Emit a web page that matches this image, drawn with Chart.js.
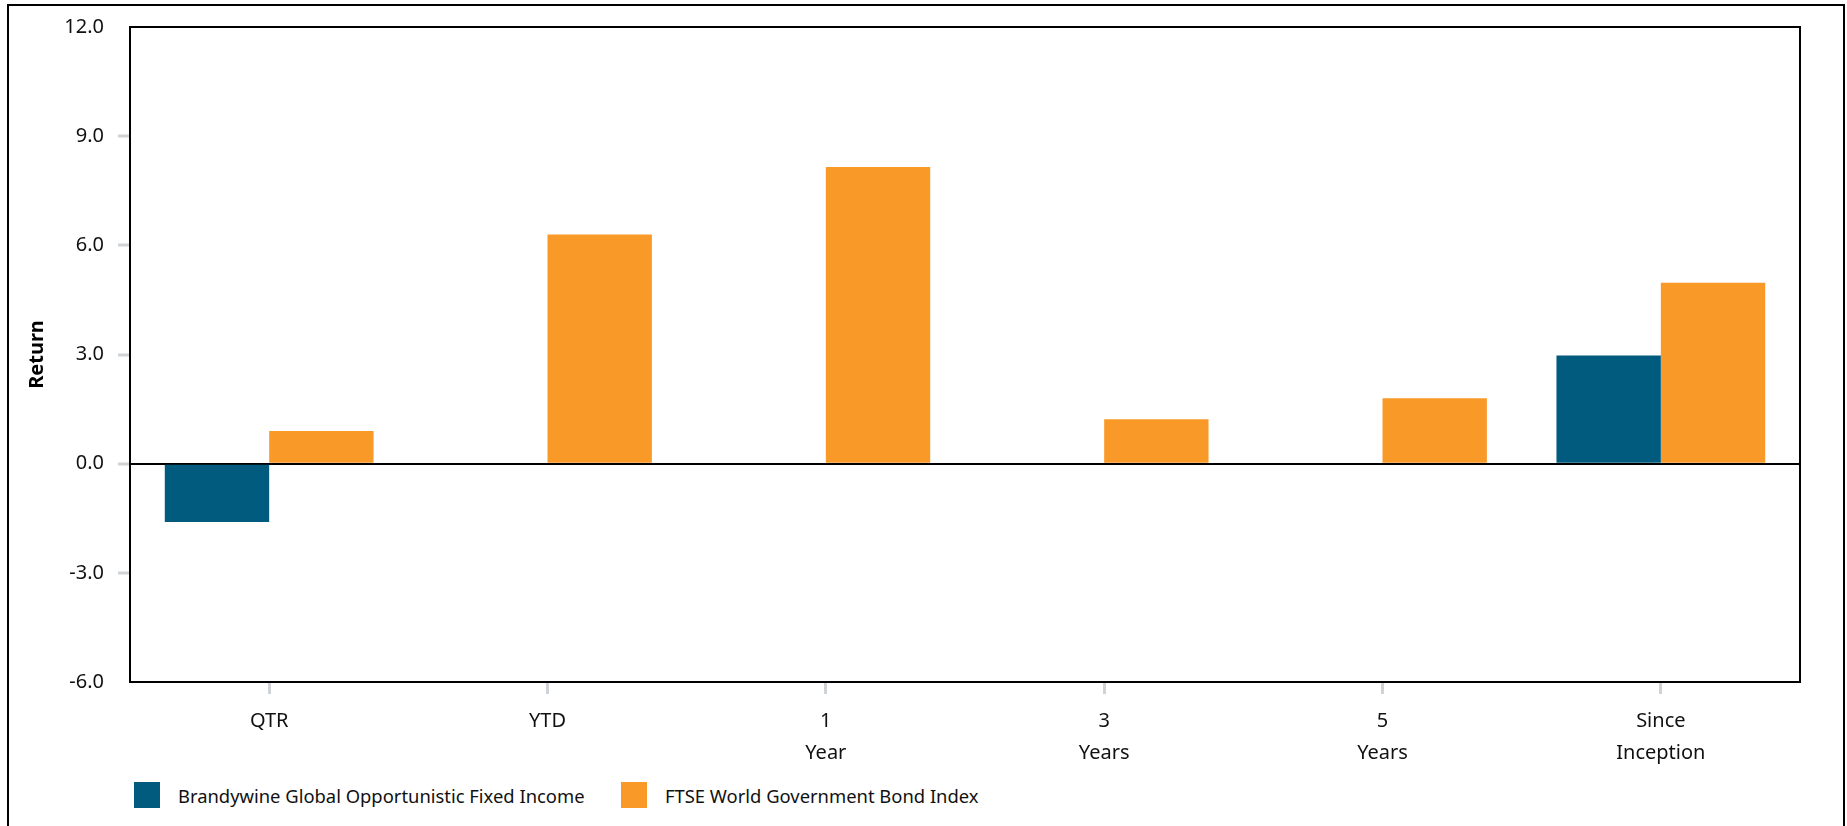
<!DOCTYPE html>
<html>
<head>
<meta charset="utf-8">
<script src="https://cdn.jsdelivr.net/npm/chart.js@4.4.1/dist/chart.umd.min.js"></script>
<style>
    html, body { margin: 0; padding: 0; background: #fff; }
    body { width: 1847px; height: 826px; position: relative; overflow: hidden; font-family: "Noto Sans", sans-serif; }
    #frame { position: absolute; left: 7px; top: 4px; width: 1834px; height: 900px; border: 2px solid #000; }
    #returnChart { position: absolute; left: 0; top: 0; }
    .legend-item { position: absolute; top: 782px; height: 26px; display: flex; align-items: center; font-size: 18.4px; color: #111; white-space: nowrap; }
    .legend-box { width: 26px; height: 26px; margin-right: 18px; }
</style>
</head>
<body>
<div id="frame"></div>
<canvas id="returnChart" width="1847" height="770"></canvas>
<div id="legend"></div>

<script>
// Chart data
const periods = ['QTR', 'YTD', ['1', 'Year'], ['3', 'Years'], ['5', 'Years'], ['Since', 'Inception']];
const brandywineReturns = [-1.6, null, null, null, null, 2.97];
const ftseReturns = [0.9, 6.3, 8.15, 1.22, 1.8, 4.97];
const yTicks = [-6, -3, 0, 3, 6, 9, 12];

const seriesNames = ['Brandywine Global Opportunistic Fixed Income', 'FTSE World Government Bond Index'];
const seriesColors = ['#005b7f', '#f99928'];
const tickGray = '#cfd2d6';

// plot area border, drawn after the bars
const plotBorder = {
    id: 'plotBorder',
    afterDraw(chart) {
        const { ctx, chartArea } = chart;
        ctx.save();
        ctx.strokeStyle = '#000';
        ctx.lineWidth = 2;
        ctx.strokeRect(chartArea.left, chartArea.top, chartArea.right - chartArea.left, chartArea.bottom - chartArea.top);
        ctx.restore();
    }
};

const ctx = document.getElementById('returnChart').getContext('2d');
const returnChart = new Chart(ctx, {
    type: 'bar',
    data: {
        labels: periods,
        datasets: [
            { label: seriesNames[0], data: brandywineReturns, backgroundColor: seriesColors[0] },
            { label: seriesNames[1], data: ftseReturns, backgroundColor: seriesColors[1] }
        ]
    },
    options: {
        responsive: false,
        animation: false,
        layout: { padding: { left: 0, right: 47, top: 27, bottom: 0 } },
        datasets: {
            bar: { categoryPercentage: 0.75, barPercentage: 1.0, borderWidth: 0 }
        },
        plugins: {
            legend: { display: false },
            tooltip: { enabled: false }
        },
        scales: {
            x: {
                afterFit(scale) { scale.height = 88; },
                grid: {
                    offset: false,
                    drawOnChartArea: false,
                    drawTicks: true,
                    tickLength: 12,
                    tickWidth: 3,
                    tickColor: tickGray
                },
                border: { display: false },
                ticks: {
                    padding: 11,
                    color: '#111',
                    maxRotation: 0,
                    font: { family: 'Noto Sans', size: 20, lineHeight: 1.6 }
                }
            },
            y: {
                min: -6,
                max: 12,
                afterFit(scale) { scale.width = 130; },
                afterBuildTicks(scale) { scale.ticks = yTicks.map(v => ({ value: v })); },
                grid: {
                    drawOnChartArea: true,
                    color: c => (c.tick && c.tick.value === 0 ? '#000' : 'rgba(0,0,0,0)'),
                    lineWidth: 2,
                    tickLength: 12,
                    tickWidth: 3,
                    tickColor: c => (c.tick && (c.tick.value === -6 || c.tick.value === 12) ? 'rgba(0,0,0,0)' : tickGray)
                },
                border: { display: false },
                ticks: {
                    padding: 14,
                    color: '#111',
                    font: { family: 'Noto Sans', size: 20 },
                    callback: v => Number(v).toFixed(1)
                },
                title: {
                    display: true,
                    text: 'Return',
                    color: '#000',
                    padding: { top: 25, bottom: 0 },
                    font: { family: 'Noto Sans', size: 20, weight: 'bold', lineHeight: 1.2 }
                }
            }
        }
    },
    plugins: [plotBorder]
});

// legend below the chart
const legendLefts = [134, 621];
document.getElementById('legend').innerHTML = seriesNames.map((name, i) => `
    <div class="legend-item" style="left:${legendLefts[i]}px">
        <div class="legend-box" style="background:${seriesColors[i]}"></div>
        <span>${name}</span>
    </div>
`).join('');
</script>
</body>
</html>
